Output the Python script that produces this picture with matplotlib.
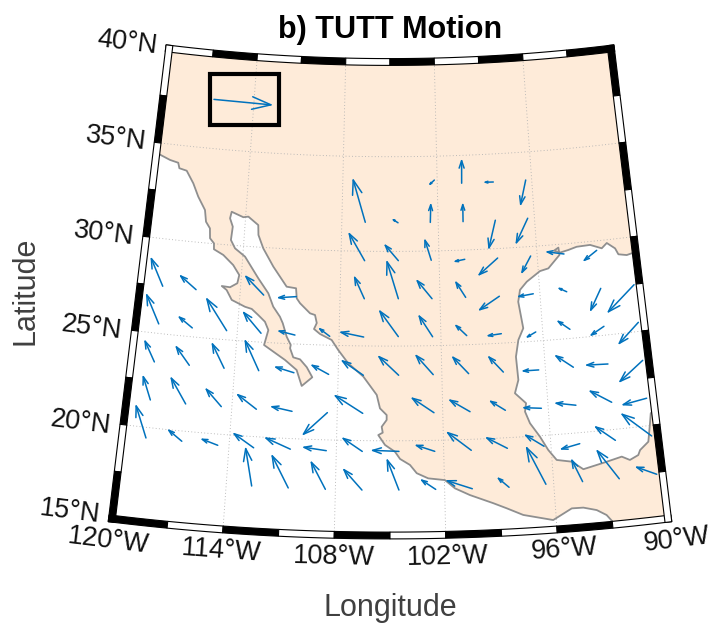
import numpy as np
import matplotlib
matplotlib.use('Agg')
import matplotlib.pyplot as plt
from matplotlib.collections import LineCollection
from matplotlib.patches import Polygon, Rectangle

plt.rcParams['font.family'] = ['Liberation Sans', 'DejaVu Sans']

# wind-motion arrows: tail position and extent, in degrees
lon = [-106.54,-102.18,-100.45,-98.44,-102.49,-100.45,-104.50,-98.44,-106.55,-104.49,-102.48,-100.43,-98.42,-104.50,
       -106.54,-102.48,-100.46,-98.44,-104.51,-102.49,-100.48,-98.44,-106.55,-108.55,-96.42,-96.38,-96.40,-94.36,
       -92.35,-96.40,-94.39,-92.34,-90.33,-94.39,-92.38,-90.34,-96.41,-94.38,-92.37,-90.35,-96.39,-92.38,
       -90.38,-94.42,-96.39,-90.35,-92.39,-94.39,-96.39,-98.44,-100.46,-102.50,-104.50,-90.32,-92.39,-94.41,
       -96.43,-98.46,-100.48,-102.49,-104.51,-102.50,-100.45,-98.44,-102.50,-100.45,-98.44,-104.50,-118.65,-116.66,
       -114.63,-112.60,-110.60,-118.66,-116.63,-114.61,-112.60,-110.56,-108.55,-106.54,-118.65,-116.63,-114.60,-112.60,
       -110.57,-108.56,-106.55,-118.66,-116.65,-114.63,-112.62,-110.57,-108.56,-106.55,-112.60,-110.59,-108.55,-106.54,
       -118.66,-116.65,-112.58,-110.62,-116.65]
lat = [31.53,33.74,33.53,33.52,31.51,31.50,31.51,31.50,29.50,29.51,29.51,29.51,29.50,27.50,
       27.49,27.48,27.50,27.48,25.50,25.47,25.48,25.50,25.47,25.47,31.50,33.52,29.50,29.47,
       29.50,27.50,27.47,27.48,27.48,25.48,25.47,25.48,25.48,23.47,23.47,23.46,23.47,21.44,
       21.45,21.46,21.44,19.44,19.42,19.42,19.43,19.44,19.42,19.42,19.44,17.40,17.38,17.41,
       17.42,17.38,17.39,17.41,17.40,21.46,21.46,21.45,23.47,23.47,23.47,23.46,25.50,25.47,
       25.48,25.47,25.47,23.48,23.49,23.49,23.49,23.48,23.46,23.45,21.46,21.44,21.46,21.45,
       21.44,21.44,21.44,19.44,19.46,19.41,19.41,19.44,19.43,19.43,17.39,17.39,17.39,17.39,
       27.50,27.50,27.49,27.50,37.59]
dlon = [-0.80,-0.28,0.05,-0.51,0.05,0.02,-0.29,-0.48,-0.97,-0.80,-0.36,-0.58,-1.17,-0.68,
        -0.60,-0.87,-0.55,-1.21,-1.09,-0.77,-0.61,-0.77,-1.34,-0.60,-0.80,-0.42,-0.59,-1.01,
        -0.81,-0.87,-0.43,-0.72,-1.70,-0.65,-0.79,-1.25,-0.51,-0.95,-1.22,-1.43,-0.89,-1.15,
        -1.36,-1.11,-0.98,-1.51,-1.02,-1.03,-0.98,-1.12,-1.29,-1.02,-1.47,-1.05,-1.06,-0.49,
        -0.93,-0.56,-1.36,-0.76,-0.64,-1.22,-1.12,-0.81,-0.97,-0.88,-0.79,-1.14,-0.90,-0.82,
        -1.32,-1.10,-0.94,-0.67,-0.85,-0.79,-0.89,-1.06,-0.97,-1.23,-0.55,-0.96,-0.93,-1.11,
        -1.15,-1.31,-1.58,-0.75,-0.78,-0.89,-1.14,-1.39,-1.25,-1.08,-0.46,-0.97,-0.82,-1.01,
        -0.87,-1.00,-1.14,-1.05,3.78]
dlat = [2.22,-0.21,1.19,0.01,0.93,0.90,0.16,-1.44,1.41,0.81,1.06,-0.09,-0.83,1.95,
        1.12,0.96,0.81,-0.66,1.34,1.10,0.55,-0.07,0.23,0.38,-1.25,-1.26,-0.83,0.18,
        -0.46,-0.09,0.21,-1.09,-1.27,0.47,-0.39,-0.99,-0.23,0.67,0.05,-0.97,0.00,0.69,
        -0.20,0.19,0.09,1.31,0.80,-0.20,0.64,0.60,0.97,0.33,0.05,0.49,1.58,1.17,
        1.99,0.50,0.46,0.50,1.58,0.78,0.64,0.51,1.02,0.89,0.83,0.98,1.45,0.50,
        1.58,1.03,0.17,1.03,0.90,1.23,1.52,0.25,0.45,0.74,1.18,1.28,0.85,0.70,
        0.19,-1.18,0.90,1.62,0.51,0.25,0.67,0.52,0.14,0.67,1.95,1.65,1.40,1.06,
        1.38,0.64,0.92,-0.10,-0.05]

# Pacific coast, running from California round Baja to Central America
pacific_lon = [-120.0,-119.80,-119.08,-118.54,-118.43,-117.95,-117.45,-117.06,-116.56,-116.43,-116.15,-116.09,-115.82,-115.79,-115.19,
               -114.54,-114.13,-114.21,-114.63,-115.13,-114.82,-114.47,-113.65,-113.24,-112.83,-112.41,-112.18,-112.38,-111.82,
               -111.11,-110.41,-110.08,-109.49,-109.83,-110.24,-110.64,-110.85,-110.82,-111.08,-111.35,-111.54,-111.97,-112.31,
               -112.97,-113.86,-114.51,-114.80,-114.75,-114.96,-114.89,-114.14,-113.83,-113.18,-113.13,-112.78,-112.10,-111.23,
               -110.66,-110.59,-110.38,-109.76,-109.46,-109.34,-109.49,-109.13,-108.43,-108.03,-107.43,-106.54,-105.76,-105.57,
               -105.19,-105.19,-105.47,-105.41,-105.66,-105.28,-104.72,-104.44,-103.89,-103.52,-102.89,-101.97,-101.43,-100.62,
               -99.36,-98.65,-97.77,-96.17,-95.12,-94.49,-93.78,-93.27,-92.98,-92.9]
pacific_lat = [34.5,34.40,34.17,34.07,33.79,33.70,33.07,32.40,31.73,31.12,30.79,30.27,30.02,29.71,29.45,
               28.96,28.46,28.02,27.78,27.81,27.62,27.12,26.81,26.72,26.42,26.09,25.66,24.86,24.54,
               24.13,23.63,22.80,23.28,23.80,24.20,24.29,24.76,24.94,25.36,26.06,26.40,26.91,27.60,
               28.36,29.45,29.85,30.27,30.98,31.41,31.76,31.52,31.57,31.16,30.64,29.95,29.02,28.00,
               27.94,27.41,27.16,26.65,26.57,26.15,25.83,25.58,25.28,24.76,24.07,23.38,22.42,21.71,
               21.36,21.10,20.74,20.43,20.30,19.78,19.42,19.04,18.72,18.28,18.00,17.89,17.44,17.06,
               16.58,16.28,15.88,15.51,16.05,16.04,15.85,15.54,15.16,15.0]
# Gulf coast, from the eastern edge at Louisiana round to Yucatan
gulf_lon = [-89.98,-90.25,-90.56,-91.06,-91.22,-91.69,-92.03,-92.72,-93.55,-94.08,-94.60,-94.95,-94.67,-94.64,-95.38,-95.90,-96.74,-97.18,-97.33,-97.13,-97.46,-97.66,-97.60,-97.84,-97.24,-97.33,-97.09,-96.58,-96.17,-95.74,-94.92,-94.31,-93.56,-92.99,-92.13,-91.70,-91.21,-91.08,-90.57,-90.36,-90.25,-89.98]
gulf_lat = [29.16,29.14,29.08,29.17,29.50,29.83,29.58,29.82,29.79,29.66,29.56,29.69,29.83,29.44,28.78,28.67,28.16,27.75,27.13,25.72,25.12,24.24,23.01,22.32,21.76,21.32,20.69,19.95,19.22,18.66,18.51,18.06,18.22,18.34,18.53,18.31,18.52,18.77,19.16,20.11,20.63,20.88]

lon_ticks = [-120,-114,-108,-102,-96,-90]
lon_labels = ['120°W','114°W','108°W','102°W','96°W','90°W']
lat_ticks = [40,35,30,25,20,15]
lat_labels = ['40°N','35°N','30°N','25°N','20°N','15°N']

BLUE = '#0072BD'
LAND = '#FEEBD9'
N_CONE = 0.4613

def proj(lo, la):
    lo = np.asarray(lo, float); la = np.asarray(la, float)
    r = 2591.6 - 18.94 * la
    t = np.radians(N_CONE * (lo + 105.0))
    return 390.0 + r * np.sin(t), -1772.0 + r * np.cos(t)

fig = plt.figure(figsize=(7.15, 6.26), dpi=100)
ax = fig.add_axes([0, 0, 1, 1])
ax.set_xlim(0, 715); ax.set_ylim(626, 0); ax.axis('off')

# land
tl = np.linspace(-120, -90, 60)
poly_lon = np.r_[tl, [-90]*2, gulf_lon, [-90]*2, np.linspace(-90, pacific_lon[-1], 10), pacific_lon[::-1], [-120, -120]]
poly_lat = np.r_[[40]*60, [40, 29.2], gulf_lat, [20.8, 15], [15]*10, pacific_lat[::-1], [34.5, 40]]
xp, yp = proj(poly_lon, poly_lat)
ax.add_patch(Polygon(np.c_[xp, yp], closed=True, fc=LAND, ec='none', zorder=1))

# graticule
ts = np.linspace(15, 40, 60)
for lo in lon_ticks[1:-1]:
    ax.plot(*proj(np.full_like(ts, lo), ts), color='#b2b2b2', lw=0.65, ls=(0, (1, 2.6)), zorder=2)
for la in lat_ticks[1:-1]:
    ax.plot(*proj(tl, np.full_like(tl, la)), color='#b2b2b2', lw=0.65, ls=(0, (1, 2.6)), zorder=2)

# coast
ax.plot(*proj(pacific_lon, pacific_lat), color='#8f8f8f', lw=1.3, zorder=3, solid_joinstyle='round')
ax.plot(*proj(gulf_lon, gulf_lat), color='#8f8f8f', lw=1.3, zorder=3, solid_joinstyle='round')

# arrows: shaft and two barbs
x0, y0 = proj(lon, lat)
x1, y1 = proj(np.add(lon, dlon), np.add(lat, dlat))
ux, uy = x1 - x0, y1 - y0
segs = []
for a, b, c, d, e, f in zip(x0, y0, x1, y1, ux, uy):
    segs.append([(a, b), (c, d)])
    segs.append([(c - .33*e + .11*f, d - .33*f - .11*e), (c, d), (c - .33*e - .11*f, d - .33*f + .11*e)])
ax.add_collection(LineCollection(segs, colors=BLUE, linewidths=1.1, zorder=4, capstyle='round'))

# highlighted reference arrow box
ax.add_patch(Rectangle((209.7, 73.7), 69, 51, fc='none', ec='black', lw=3.0, zorder=5, joinstyle='miter'))

# frame of alternating black and white bars
HALF = 3.4
def band(lo, la, fc):
    x, y = proj(lo, la)
    dx, dy = np.gradient(x), np.gradient(y)
    s = np.hypot(dx, dy); nx, ny = -dy/s*HALF, dx/s*HALF
    pts = np.r_[np.c_[x+nx, y+ny], np.c_[x-nx, y-ny][::-1]]
    ax.add_patch(Polygon(pts, closed=True, fc=fc, ec='black', lw=0.8, zorder=6, joinstyle='miter'))

def extended(edges, i, pad):
    a, b = float(edges[i]), float(edges[i+1])
    if i == 0:
        a -= np.sign(b - a) * pad
    if i == len(edges) - 2:
        b += np.sign(b - a) * pad
    return a, b

lon_edges = np.arange(-120, -89, 3)
for i in range(10):
    a, b = extended(lon_edges, i, HALF / 14.77)
    e = np.linspace(a, b, 12)
    band(e, np.full_like(e, 40.), 'white' if i % 2 == 0 else 'black')
    a, b = extended(lon_edges, i, HALF / 18.57)
    e = np.linspace(a, b, 12)
    band(e, np.full_like(e, 15.), 'black' if i % 2 == 0 else 'white')
lat_edges = np.arange(40, 14, -2.5)
for i in range(10):
    a, b = extended(lat_edges, i, HALF / 18.94)
    e = np.linspace(a, b, 6)
    band(np.full_like(e, -120.), e, 'white' if i % 2 == 0 else 'black')
    band(np.full_like(e, -90.), e, 'black' if i % 2 == 0 else 'white')

# tick labels
lat_pos = [(127, 43), (115.5, 139), (103.7, 234), (92, 328), (80.5, 423), (70, 512)]
for s, (x, y) in zip(lat_labels, lat_pos):
    ax.text(x, y, s, fontsize=19.5, rotation=-7, rotation_mode='anchor', ha='center', va='center', color='#111111', zorder=7)
lon_pos = [(108, 541), (221.5, 551), (334, 557), (447.5, 557), (564, 550), (677, 540)]
for lo, s, (x, y) in zip(lon_ticks, lon_labels, lon_pos):
    ax.text(x, y, s, fontsize=19.5, rotation=N_CONE*(lo+105), rotation_mode='anchor', ha='center', va='center', color='#111111', zorder=7)

ax.text(390, 38, 'b) TUTT Motion', fontsize=22, fontweight='bold', ha='center', va='baseline', color='black', zorder=7)
ax.text(390, 616, 'Longitude', fontsize=22, ha='center', va='baseline', color='#404040')
ax.text(25, 291, 'Latitude', fontsize=22, rotation=90, ha='center', va='center', color='#404040')

fig.savefig('out.png', dpi=100)
